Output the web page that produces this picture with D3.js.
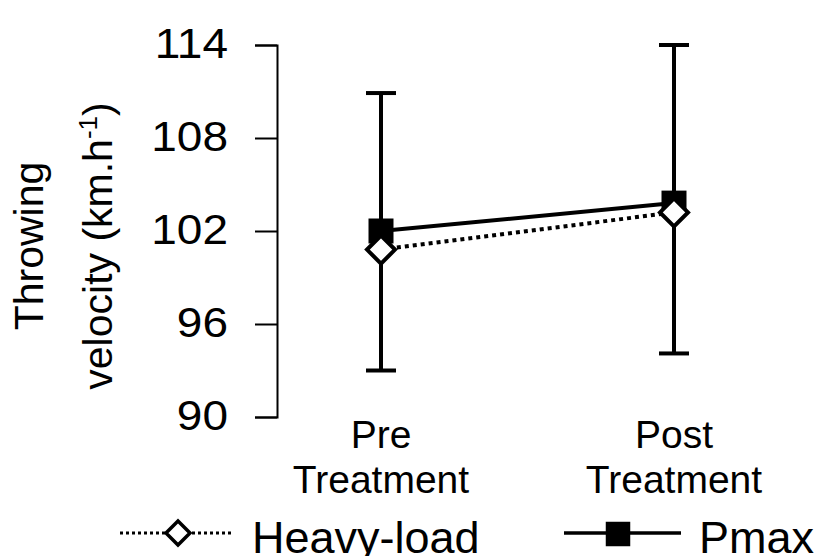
<!DOCTYPE html>
<html>
<head>
<meta charset="utf-8">
<script src="https://cdn.jsdelivr.net/npm/d3@7"></script>
<style>
  body { margin: 0; background: #fff; }
  text { font-family: 'Liberation Sans', Arial, sans-serif; fill: #000; }
</style>
</head>
<body>
<div id="graph"></div>
<script>
'use strict';

let WIDTH = 820;
let HEIGHT = 556;

let PHASES = ['Pre', 'Post'];
let PHASE_LABELS = [['Pre', 'Treatment'], ['Post', 'Treatment']];
let HEAVY_LOAD = [100.8, 103.2];
let PMAX = [102.0, 103.8];
let ERR_HIGH = [110.9, 114.0];
let ERR_LOW = [93.0, 94.1];
let Y_TICKS = [90, 96, 102, 108, 114];

let svg = d3.select('#graph')
    .append('svg')
    .attr('width', WIDTH)
    .attr('height', HEIGHT);

let x = d3.scalePoint()
    .domain(PHASES)
    .range([381, 674]);

let y = d3.scaleLinear()
    .domain([90, 114])
    .range([417, 45]);

// y axis
let yAxis = d3.axisLeft(y)
    .tickValues(Y_TICKS)
    .tickSize(22)
    .tickPadding(27)
    .tickFormat(d3.format('d'));

let TICK_STRETCH = 1.07;

let gy = svg.append('g')
    .attr('transform', 'translate(277,0)')
    .call(yAxis);
gy.select('.domain').attr('stroke', '#000').attr('stroke-width', 2);
gy.selectAll('.tick line').attr('stroke', '#000').attr('stroke-width', 2);
gy.selectAll('.tick text')
    .style('font-size', '43px')
    .style('font-family', "'Liberation Sans', Arial, sans-serif")
    .attr('fill', '#000')
    .attr('x', -49 / TICK_STRETCH)
    .attr('dy', '0.28em')
    .attr('transform', `scale(${TICK_STRETCH},1)`);

// category labels
let cat = svg.append('g');
PHASES.forEach((p, i) => {
    let t = cat.append('text')
        .attr('x', x(p))
        .attr('y', 448)
        .attr('text-anchor', 'middle')
        .style('font-size', '39px');
    PHASE_LABELS[i].forEach((s, j) => {
        t.append('tspan')
            .attr('x', x(p))
            .attr('dy', j == 0 ? 0 : 45)
            .text(s);
    });
});

// y title
let title = svg.append('text')
    .attr('transform', 'translate(43,246) rotate(-90)')
    .attr('text-anchor', 'middle')
    .style('font-size', '41px');
title.append('tspan').attr('x', 0).attr('y', 0).text('Throwing');
let line2 = title.append('tspan').attr('x', 0).attr('y', 69);
line2.append('tspan').text('velocity (km.h');
line2.append('tspan').attr('dy', -15).style('font-size', '26px').text('-1');
line2.append('tspan').attr('dy', 15).text(')');

// error bars
let eb = svg.append('g').attr('stroke', '#000').attr('stroke-width', 4);
PHASES.forEach((p, i) => {
    eb.append('line')
        .attr('x1', x(p)).attr('x2', x(p))
        .attr('y1', y(ERR_HIGH[i])).attr('y2', y(ERR_LOW[i]));
    [ERR_HIGH[i], ERR_LOW[i]].forEach(v => {
        eb.append('line')
            .attr('x1', x(p) - 15).attr('x2', x(p) + 15)
            .attr('y1', y(v)).attr('y2', y(v));
    });
});

let line = d3.line()
    .x((d, i) => x(PHASES[i]))
    .y(d => y(d));

svg.append('path')
    .datum(PMAX)
    .attr('d', line)
    .attr('fill', 'none')
    .attr('stroke', '#000')
    .attr('stroke-width', 4);

svg.append('path')
    .datum(HEAVY_LOAD)
    .attr('d', line)
    .attr('fill', 'none')
    .attr('stroke', '#000')
    .attr('stroke-width', 4)
    .attr('stroke-dasharray', '4,4');

let square = d3.symbol().type(d3.symbolSquare).size(625);
let diamond = (cx, cy, r) => `M${cx},${cy - r}L${cx + r},${cy}L${cx},${cy + r}L${cx - r},${cy}Z`;

svg.selectAll('.pmax')
    .data(PMAX)
    .enter()
    .append('path')
    .attr('class', 'pmax')
    .attr('d', square)
    .attr('transform', (d, i) => `translate(${x(PHASES[i])},${y(d)})`)
    .attr('fill', '#000');

svg.selectAll('.heavy')
    .data(HEAVY_LOAD)
    .enter()
    .append('path')
    .attr('class', 'heavy')
    .attr('d', (d, i) => diamond(x(PHASES[i]), y(d), 14))
    .attr('fill', '#fff')
    .attr('stroke', '#000')
    .attr('stroke-width', 4);

// legend
let lg = svg.append('g');
lg.append('line')
    .attr('x1', 120).attr('x2', 234).attr('y1', 533).attr('y2', 533)
    .attr('stroke', '#000').attr('stroke-width', 3).attr('stroke-dasharray', '3,3');
lg.append('path')
    .attr('d', diamond(178, 533, 12))
    .attr('fill', '#fff').attr('stroke', '#000').attr('stroke-width', 3.5);
lg.append('text')
    .attr('x', 252).attr('y', 553)
    .style('font-size', '45px')
    .text('Heavy-load');

lg.append('line')
    .attr('x1', 564).attr('x2', 681).attr('y1', 533).attr('y2', 533)
    .attr('stroke', '#000').attr('stroke-width', 3.5);
lg.append('path')
    .attr('d', d3.symbol().type(d3.symbolSquare).size(600))
    .attr('transform', 'translate(618,534)')
    .attr('fill', '#000');
lg.append('text')
    .attr('x', 699).attr('y', 553)
    .style('font-size', '45px')
    .text('Pmax');
</script>
</body>
</html>
